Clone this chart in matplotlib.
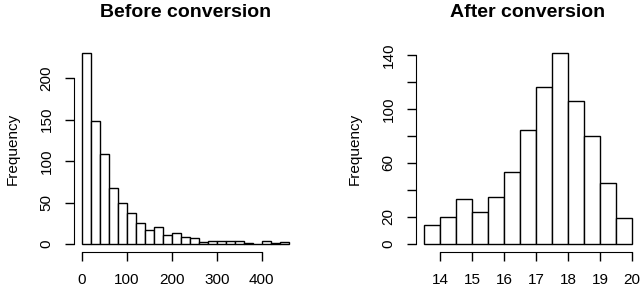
import numpy as np
import matplotlib
matplotlib.use("Agg")
import matplotlib.pyplot as plt

plt.rcParams["font.family"] = ["Liberation Sans", "DejaVu Sans"]

# before conversion: bins of width 20 from 0 to 460
before_edges = np.arange(0, 461, 20)
before_counts = [230, 148, 108, 68, 50, 37, 25, 17, 21, 11, 13, 8, 7,
                 2, 3, 3, 3, 3, 1, 0, 4, 1, 2]
before_xticks = [0, 100, 200, 300, 400]
before_yticks = [0, 50, 100, 150, 200]

# after conversion: bins of width 0.5 from 13.5 to 20
after_edges = np.arange(13.5, 20.01, 0.5)
after_counts = [14, 20, 33, 24, 35, 53, 84, 116, 141, 106, 80, 45, 19]
after_xticks = [14, 15, 16, 17, 18, 19, 20]
after_yticks = [0, 20, 40, 60, 80, 100, 120, 140]
after_ylabels = ["0", "20", "", "60", "", "100", "", "140"]


def r_hist(ax, edges, counts, title, xticks, yticks, ylabels=None):
    w = edges[1] - edges[0]
    ax.bar(edges[:-1], counts, width=w, align="edge",
           facecolor="white", edgecolor="black", linewidth=1)
    lo, hi = edges[0], edges[-1]
    pad = 0.04 * (hi - lo)
    ax.set_xlim(lo - pad, hi + pad)
    top = max(counts)
    ax.set_ylim(-0.04 * top, top * 1.04)
    for s in ["top", "right"]:
        ax.spines[s].set_visible(False)
    ax.spines["left"].set_bounds(yticks[0], yticks[-1])
    ax.spines["bottom"].set_bounds(xticks[0], xticks[-1])
    ax.set_xticks(xticks)
    ax.set_yticks(yticks)
    if ylabels is not None:
        ax.set_yticklabels(ylabels)
    ax.tick_params(axis="both", length=6.5, width=1, labelsize=11)
    ax.tick_params(axis="x", pad=9)
    ax.tick_params(axis="y", pad=8)
    for lab in ax.get_yticklabels():
        lab.set_rotation(90)
        lab.set_va("center")
    ax.set_ylabel("Frequency", fontsize=11, labelpad=14)
    ax.set_title(title, fontsize=14, fontweight="bold", pad=21)


fig = plt.figure(figsize=(6.4, 2.86), dpi=100)
ax1 = fig.add_axes([0.1152, 0.1203, 0.3486, 0.7196])
ax2 = fig.add_axes([0.6495, 0.1203, 0.3510, 0.7196])

r_hist(ax1, before_edges, before_counts, "Before conversion",
       before_xticks, before_yticks)
r_hist(ax2, after_edges, after_counts, "After conversion",
       after_xticks, after_yticks, after_ylabels)

fig.savefig("out.png", dpi=100)
